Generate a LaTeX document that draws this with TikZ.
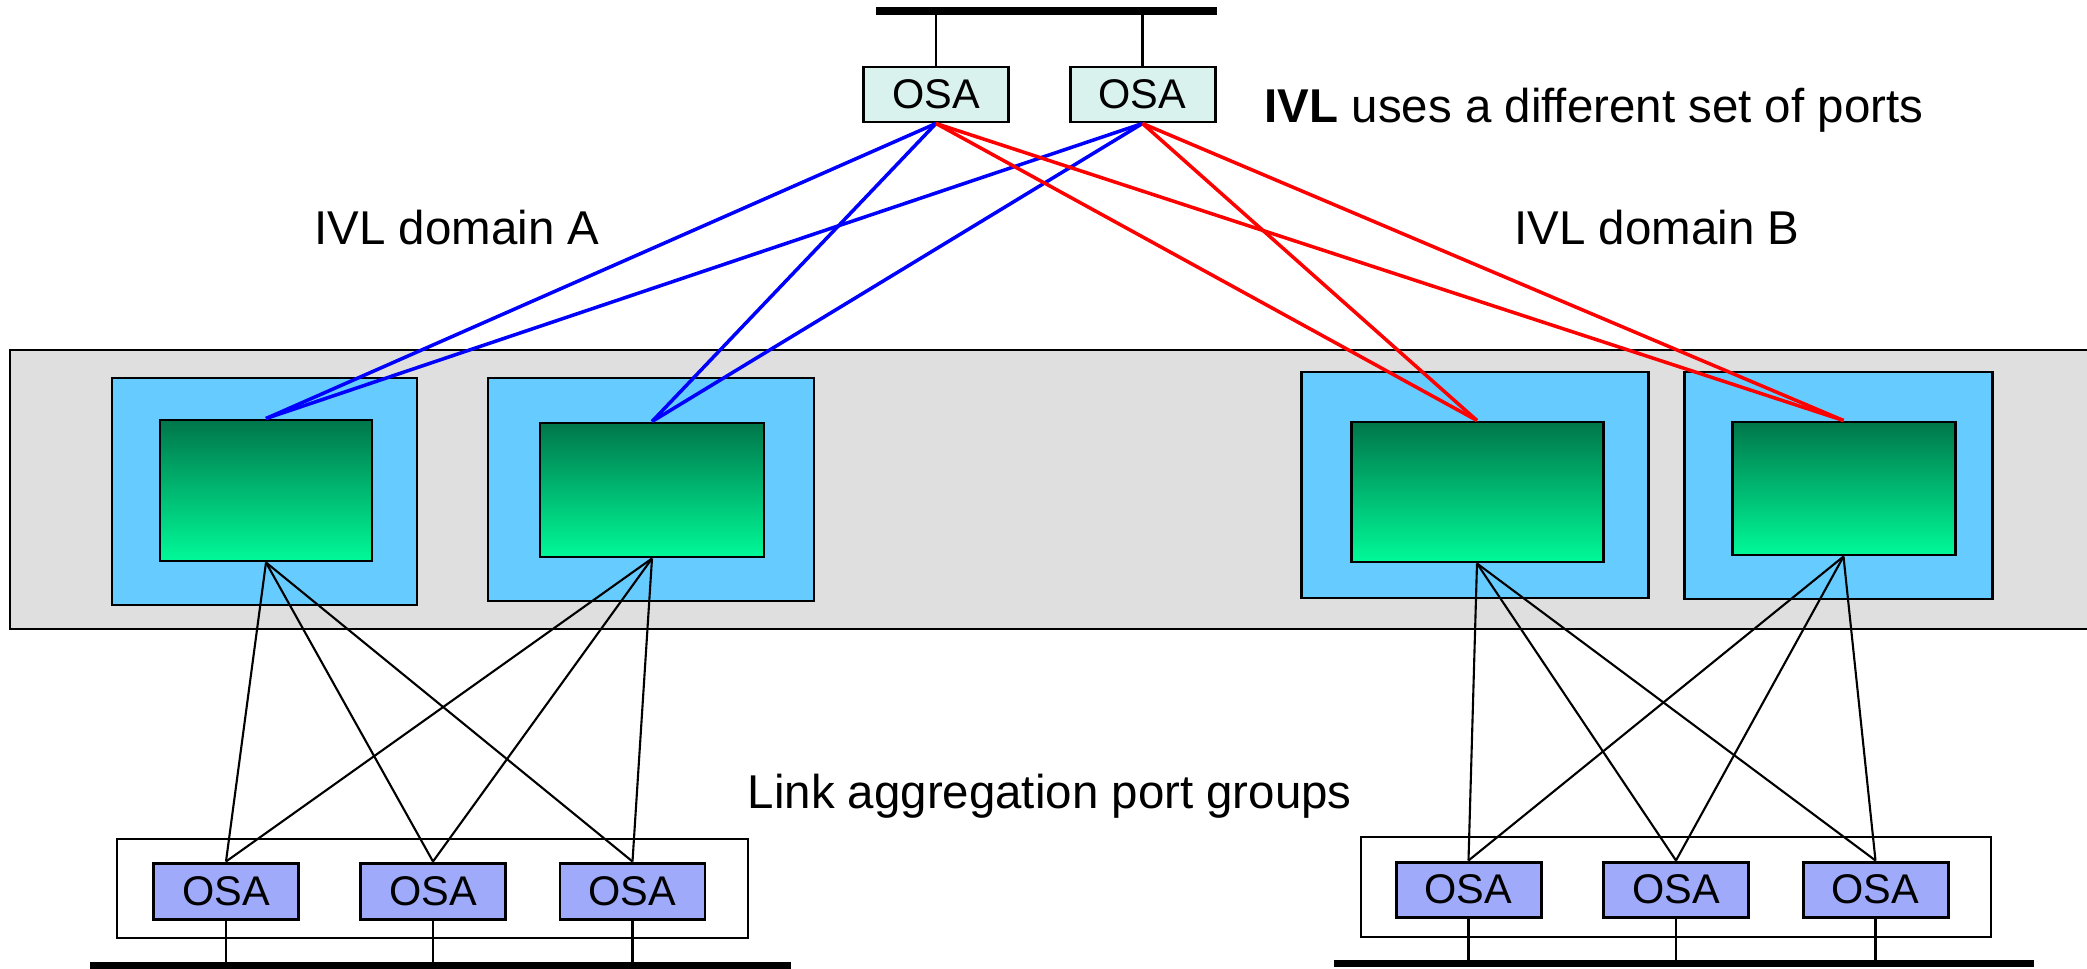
\documentclass[tikz,border=0pt]{standalone}
\usepackage{fontspec}
\setmainfont{Liberation Sans}
\definecolor{bandgray}{RGB}{223,223,223}
\definecolor{cardblue}{RGB}{102,204,255}
\definecolor{chiptop}{RGB}{0,118,74}
\definecolor{chipbot}{RGB}{0,250,152}
\definecolor{osatop}{RGB}{217,242,238}
\definecolor{osabot}{RGB}{160,170,250}

\begin{document}
\begin{tikzpicture}[x=0.1mm,y=-0.1mm,
    card/.style={draw,line width=0.85pt,fill=cardblue,inner sep=0pt},
    chip/.style={draw,line width=0.85pt,top color=chiptop,bottom color=chipbot,inner sep=0pt},
    osa/.style={draw,line width=0.85pt,inner sep=0pt,minimum width=14.5mm,minimum height=5.5mm,font=\fontsize{11.8pt}{14pt}\selectfont},
    lag/.style={draw,line width=0.7pt,inner sep=0pt},
    bus/.style={line width=2.2pt},
    drop/.style={line width=0.6pt},
    ivla/.style={blue,line width=1pt},
    ivlb/.style={red,line width=1pt},
    link/.style={line width=0.6pt},
    lbl/.style={inner sep=0pt,anchor=base,font=\fontsize{13.5pt}{16pt}\selectfont}]
      \useasboundingbox (0,0) rectangle (2087,969);
      \draw[fill=bandgray,line width=0.85pt] (10,350) rectangle (2100,629);

      \node[card,minimum width=30.5mm,minimum height=22.7mm] (card1) at (264.5,491.5) {};
      \node[card,minimum width=32.6mm,minimum height=22.3mm] (card2) at (651,489.5) {};
      \node[card,minimum width=34.7mm,minimum height=22.6mm] (card3) at (1474.5,485) {};
      \node[card,minimum width=30.8mm,minimum height=22.7mm] (card4) at (1838,485.5) {};
      \node[chip,minimum width=21.2mm,minimum height=14.1mm] (chip1) at (266,490.5) {};
      \node[chip,minimum width=22.4mm,minimum height=13.4mm] (chip2) at (652,490) {};
      \node[chip,minimum width=25.2mm,minimum height=14.0mm] (chip3) at (1477,492) {};
      \node[chip,minimum width=22.3mm,minimum height=13.3mm] (chip4) at (1843.5,488.5) {};

      \coordinate (busT) at (876,11);
      \coordinate (busL) at (90,965.5);
      \coordinate (busR) at (1334,963.5);
      \draw[bus] (busT) -- (1217,11);
      \draw[bus] (busL) -- (791,965.5);
      \draw[bus] (busR) -- (2034,963.5);

      \node[osa,fill=osatop] (osa1) at (936,94.5) {OSA};
      \node[osa,fill=osatop] (osa2) at (1142.5,94.5) {OSA};
      \draw[drop] (osa1.north) -- (osa1.north |- busT);
      \draw[drop] (osa2.north) -- (osa2.north |- busT);

      \node[lag,minimum width=63.1mm,minimum height=9.9mm] (lag1) at (432.5,888.5) {};
      \node[lag,minimum width=63.0mm,minimum height=10.0mm] (lag2) at (1676,887) {};
      \node[osa,fill=osabot,minimum height=5.6mm] (port1) at (226,891) {OSA};
      \node[osa,fill=osabot,minimum height=5.6mm] (port2) at (433,891) {OSA};
      \node[osa,fill=osabot,minimum height=5.6mm] (port3) at (632.5,891) {OSA};
      \node[osa,fill=osabot] (port4) at (1468.5,889.5) {OSA};
      \node[osa,fill=osabot] (port5) at (1676,889.5) {OSA};
      \node[osa,fill=osabot] (port6) at (1875.5,889.5) {OSA};
      \draw[drop] (port1.south) -- (port1.south |- busL);
      \draw[drop] (port2.south) -- (port2.south |- busL);
      \draw[drop] (port3.south) -- (port3.south |- busL);
      \draw[drop] (port4.south) -- (port4.south |- busR);
      \draw[drop] (port5.south) -- (port5.south |- busR);
      \draw[drop] (port6.south) -- (port6.south |- busR);

      \draw[ivla] (osa1.south) -- (chip1.north);
      \draw[ivla] (osa1.south) -- (chip2.north);
      \draw[ivla] (osa2.south) -- (chip1.north);
      \draw[ivla] (osa2.south) -- (chip2.north);
      \draw[ivlb] (osa1.south) -- (chip3.north);
      \draw[ivlb] (osa1.south) -- (chip4.north);
      \draw[ivlb] (osa2.south) -- (chip3.north);
      \draw[ivlb] (osa2.south) -- (chip4.north);

      \draw[link] (chip1.south) -- (port1.north);
      \draw[link] (chip1.south) -- (port2.north);
      \draw[link] (chip1.south) -- (port3.north);
      \draw[link] (chip2.south) -- (port1.north);
      \draw[link] (chip2.south) -- (port2.north);
      \draw[link] (chip2.south) -- (port3.north);
      \draw[link] (chip3.south) -- (port4.north);
      \draw[link] (chip3.south) -- (port5.north);
      \draw[link] (chip3.south) -- (port6.north);
      \draw[link] (chip4.south) -- (port4.north);
      \draw[link] (chip4.south) -- (port5.north);
      \draw[link] (chip4.south) -- (port6.north);

      \node[lbl] (domA) at (457,244) {IVL domain A};
      \node[lbl] (domB) at (1657,244) {IVL domain B};
      \node[lbl,anchor=base west] (note) at (1264,122) {\textbf{IVL} uses a different set of ports};
      \node[lbl,anchor=base west] (lagnote) at (747,808) {Link aggregation port groups};
    \end{tikzpicture}
\end{document}
